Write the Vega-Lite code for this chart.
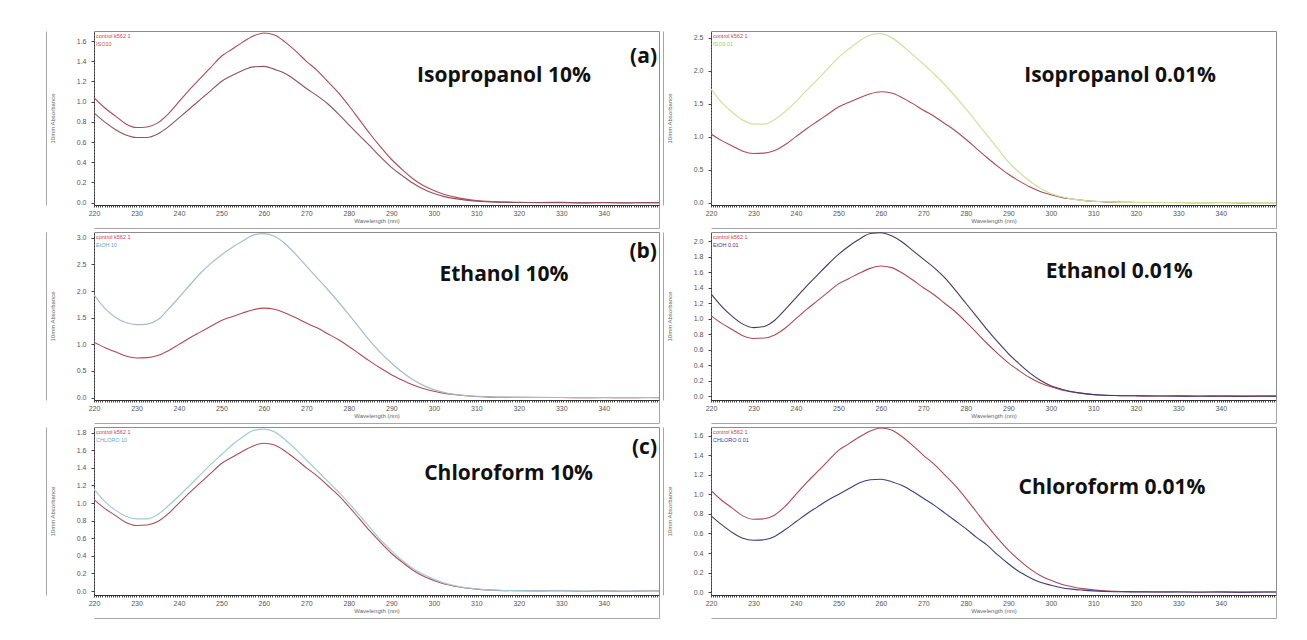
{
 "$schema": "https://vega.github.io/schema/vega-lite/v6.json",
 "background": "white",
 "padding": {"left": 45, "top": 30, "right": 5, "bottom": 5},
 "config": {
  "view": {"stroke": "#8c8c8c", "strokeWidth": 1},
  "font": "Liberation Sans",
  "axis": {"labelFont": "Liberation Sans", "labelFontSize": 7, "labelColor": "#555555", "titleFont": "Liberation Sans", "titleFontSize": 6, "titleColor": "#666666", "titleFontWeight": "normal", "grid": false, "tickSize": 3, "tickColor": "#444444", "domainColor": "#333333", "labelPadding": 2, "labelOverlap": false, "tickCount": 200},
  "axisX": {"values": [220,222,224,226,228,230,232,234,236,238,240,242,244,246,248,250,252,254,256,258,260,262,264,266,268,270,272,274,276,278,280,282,284,286,288,290,292,294,296,298,300,302,304,306,308,310,312,314,316,318,320,322,324,326,328,330,332,334,336,338,340,342,344,346,348,350,352], "labelExpr": "datum.value % 10 === 0 && datum.value <= 340 ? datum.label : ''", "labelFlush": false, "tickSize": 2, "titlePadding": 1, "format": "d"},
  "axisY": {"format": ".1f", "titlePadding": 21, "labelPadding": 5, "domainDash": [2, 1], "labelFlush": false, "labelOverlap": false}
 },
 "datasets": {
  "spectra": [
   {"wl":220,"control":1.04,"iso10":0.89,"iso001":1.72,"etoh10":1.93,"etoh001":1.32,"chl10":1.16,"chl001":0.78},
   {"wl":222.5,"control":0.94,"iso10":0.80,"iso001":1.52,"etoh10":1.68,"etoh001":1.16,"chl10":1.02,"chl001":0.69},
   {"wl":225,"control":0.86,"iso10":0.725,"iso001":1.37,"etoh10":1.51,"etoh001":1.03,"chl10":0.92,"chl001":0.61},
   {"wl":227.5,"control":0.78,"iso10":0.67,"iso001":1.25,"etoh10":1.41,"etoh001":0.93,"chl10":0.85,"chl001":0.55},
   {"wl":230,"control":0.745,"iso10":0.645,"iso001":1.19,"etoh10":1.37,"etoh001":0.885,"chl10":0.82,"chl001":0.53},
   {"wl":232.5,"control":0.75,"iso10":0.645,"iso001":1.19,"etoh10":1.38,"etoh001":0.90,"chl10":0.82,"chl001":0.535},
   {"wl":235,"control":0.79,"iso10":0.68,"iso001":1.26,"etoh10":1.46,"etoh001":0.98,"chl10":0.87,"chl001":0.57},
   {"wl":237.5,"control":0.88,"iso10":0.75,"iso001":1.38,"etoh10":1.66,"etoh001":1.12,"chl10":0.97,"chl001":0.64},
   {"wl":240,"control":1.00,"iso10":0.84,"iso001":1.53,"etoh10":1.88,"etoh001":1.27,"chl10":1.08,"chl001":0.72},
   {"wl":242.5,"control":1.12,"iso10":0.93,"iso001":1.70,"etoh10":2.11,"etoh001":1.42,"chl10":1.20,"chl001":0.80},
   {"wl":245,"control":1.23,"iso10":1.02,"iso001":1.86,"etoh10":2.33,"etoh001":1.56,"chl10":1.32,"chl001":0.87},
   {"wl":247.5,"control":1.34,"iso10":1.11,"iso001":2.03,"etoh10":2.52,"etoh001":1.70,"chl10":1.44,"chl001":0.94},
   {"wl":250,"control":1.45,"iso10":1.20,"iso001":2.20,"etoh10":2.68,"etoh001":1.83,"chl10":1.55,"chl001":1.00},
   {"wl":252.5,"control":1.52,"iso10":1.26,"iso001":2.33,"etoh10":2.82,"etoh001":1.94,"chl10":1.66,"chl001":1.06},
   {"wl":255,"control":1.59,"iso10":1.31,"iso001":2.45,"etoh10":2.94,"etoh001":2.03,"chl10":1.75,"chl001":1.12},
   {"wl":257.5,"control":1.65,"iso10":1.345,"iso001":2.54,"etoh10":3.05,"etoh001":2.10,"chl10":1.825,"chl001":1.15},
   {"wl":260,"control":1.68,"iso10":1.35,"iso001":2.56,"etoh10":3.08,"etoh001":2.11,"chl10":1.84,"chl001":1.155},
   {"wl":262.5,"control":1.66,"iso10":1.32,"iso001":2.50,"etoh10":3.03,"etoh001":2.07,"chl10":1.81,"chl001":1.13},
   {"wl":265,"control":1.59,"iso10":1.28,"iso001":2.38,"etoh10":2.89,"etoh001":1.99,"chl10":1.72,"chl001":1.09},
   {"wl":267.5,"control":1.50,"iso10":1.21,"iso001":2.24,"etoh10":2.69,"etoh001":1.88,"chl10":1.61,"chl001":1.03},
   {"wl":270,"control":1.40,"iso10":1.13,"iso001":2.10,"etoh10":2.47,"etoh001":1.77,"chl10":1.49,"chl001":0.96},
   {"wl":272.5,"control":1.31,"iso10":1.06,"iso001":1.95,"etoh10":2.25,"etoh001":1.66,"chl10":1.37,"chl001":0.89},
   {"wl":275,"control":1.20,"iso10":0.98,"iso001":1.79,"etoh10":2.03,"etoh001":1.53,"chl10":1.25,"chl001":0.81},
   {"wl":277.5,"control":1.09,"iso10":0.88,"iso001":1.61,"etoh10":1.80,"etoh001":1.37,"chl10":1.13,"chl001":0.73},
   {"wl":280,"control":0.96,"iso10":0.77,"iso001":1.42,"etoh10":1.56,"etoh001":1.20,"chl10":1.00,"chl001":0.65},
   {"wl":282.5,"control":0.82,"iso10":0.665,"iso001":1.22,"etoh10":1.31,"etoh001":1.03,"chl10":0.86,"chl001":0.56},
   {"wl":285,"control":0.68,"iso10":0.56,"iso001":1.02,"etoh10":1.06,"etoh001":0.86,"chl10":0.72,"chl001":0.48},
   {"wl":287.5,"control":0.55,"iso10":0.45,"iso001":0.82,"etoh10":0.84,"etoh001":0.70,"chl10":0.58,"chl001":0.38},
   {"wl":290,"control":0.43,"iso10":0.35,"iso001":0.62,"etoh10":0.65,"etoh001":0.55,"chl10":0.46,"chl001":0.29},
   {"wl":292.5,"control":0.33,"iso10":0.27,"iso001":0.46,"etoh10":0.48,"etoh001":0.42,"chl10":0.35,"chl001":0.21},
   {"wl":295,"control":0.24,"iso10":0.195,"iso001":0.33,"etoh10":0.34,"etoh001":0.30,"chl10":0.26,"chl001":0.15},
   {"wl":297.5,"control":0.17,"iso10":0.135,"iso001":0.22,"etoh10":0.23,"etoh001":0.205,"chl10":0.19,"chl001":0.10},
   {"wl":300,"control":0.12,"iso10":0.09,"iso001":0.14,"etoh10":0.15,"etoh001":0.135,"chl10":0.135,"chl001":0.07},
   {"wl":302.5,"control":0.08,"iso10":0.06,"iso001":0.09,"etoh10":0.095,"etoh001":0.09,"chl10":0.09,"chl001":0.045},
   {"wl":305,"control":0.055,"iso10":0.04,"iso001":0.055,"etoh10":0.06,"etoh001":0.057,"chl10":0.06,"chl001":0.03},
   {"wl":307.5,"control":0.035,"iso10":0.025,"iso001":0.035,"etoh10":0.038,"etoh001":0.035,"chl10":0.038,"chl001":0.02},
   {"wl":310,"control":0.022,"iso10":0.015,"iso001":0.022,"etoh10":0.025,"etoh001":0.02,"chl10":0.024,"chl001":0.012},
   {"wl":312.5,"control":0.013,"iso10":0.009,"iso001":0.014,"etoh10":0.016,"etoh001":0.012,"chl10":0.014,"chl001":0.007},
   {"wl":315,"control":0.008,"iso10":0.005,"iso001":0.009,"etoh10":0.01,"etoh001":0.008,"chl10":0.009,"chl001":0.004},
   {"wl":320,"control":0.004,"iso10":0.002,"iso001":0.005,"etoh10":0.005,"etoh001":0.004,"chl10":0.004,"chl001":0.002},
   {"wl":325,"control":0.002,"iso10":0.001,"iso001":0.003,"etoh10":0.003,"etoh001":0.002,"chl10":0.002,"chl001":0.001},
   {"wl":330,"control":0.003,"iso10":0.0,"iso001":0.002,"etoh10":0.002,"etoh001":0.0,"chl10":0.003,"chl001":0.0},
   {"wl":335,"control":-0.002,"iso10":0.0,"iso001":0.001,"etoh10":0.001,"etoh001":0.001,"chl10":0.0,"chl001":0.001},
   {"wl":340,"control":0.002,"iso10":-0.001,"iso001":0.0,"etoh10":0.0,"etoh001":0.0,"chl10":0.001,"chl001":0.0},
   {"wl":345,"control":-0.003,"iso10":0.0,"iso001":0.0,"etoh10":0.0,"etoh001":0.0,"chl10":0.0,"chl001":-0.001},
   {"wl":350,"control":0.001,"iso10":0.0,"iso001":0.0,"etoh10":0.0,"etoh001":0.0,"chl10":0.0,"chl001":0.0},
   {"wl":353,"control":0.0,"iso10":0.0,"iso001":0.0,"etoh10":0.0,"etoh001":0.0,"chl10":0.0,"chl001":0.0}
  ],
  "notes": [
   {"panel":"a","kind":"title","text":"Isopropanol 10%"},
   {"panel":"a","kind":"tag","text":"(a)"},
   {"panel":"a","kind":"leg1","text":"control k562 1"},
   {"panel":"a","kind":"leg2","text":"ISO10"},
   {"panel":"b","kind":"title","text":"Isopropanol 0.01%"},
   {"panel":"b","kind":"leg1","text":"control k562 1"},
   {"panel":"b","kind":"leg2","text":"ISO0.01"},
   {"panel":"c","kind":"title","text":"Ethanol 10%"},
   {"panel":"c","kind":"tag","text":"(b)"},
   {"panel":"c","kind":"leg1","text":"control k562 1"},
   {"panel":"c","kind":"leg2","text":"EtOH 10"},
   {"panel":"d","kind":"title","text":"Ethanol 0.01%"},
   {"panel":"d","kind":"leg1","text":"control k562 1"},
   {"panel":"d","kind":"leg2","text":"EtOH 0.01"},
   {"panel":"e","kind":"title","text":"Chloroform 10%"},
   {"panel":"e","kind":"tag","text":"(c)"},
   {"panel":"e","kind":"leg1","text":"control k562 1"},
   {"panel":"e","kind":"leg2","text":"CHLORO 10"},
   {"panel":"f","kind":"title","text":"Chloroform 0.01%"},
   {"panel":"f","kind":"leg1","text":"control k562 1"},
   {"panel":"f","kind":"leg2","text":"CHLORO 0.01"}
  ]
 },
 "columns": 2,
 "spacing": {"row": 27, "column": 52},
 "bounds": "flush",
 "resolve": {"scale": {"x": "independent", "y": "independent"}},
 "concat": [
  {
   "width": 565, "height": 174,
   "resolve": {"axis": {"x": "independent", "y": "independent"}},
   "layer": [
    {"data": {"name": "spectra"}, "mark": {"type": "line", "color": "#b04a55", "strokeWidth": 1.1, "interpolate": "monotone", "clip": true},
     "encoding": {"x": {"field": "wl", "type": "quantitative", "scale": {"domain": [220, 353], "nice": false, "zero": false}, "axis": {"title": "Wavelength (nm)", "tickCount": 200}},
                  "y": {"field": "control", "type": "quantitative", "scale": {"domain": [-0.023, 1.70], "nice": false, "zero": false}, "axis": {"title": "10mm Absorbance", "tickCount": 200, "values": [0,0.2,0.4,0.6,0.8,1.0,1.2,1.4,1.6]}}}},
    {"data": {"name": "spectra"}, "mark": {"type": "line", "color": "#94505e", "strokeWidth": 1.1, "interpolate": "monotone", "clip": true},
     "encoding": {"x": {"field": "wl", "type": "quantitative", "axis": {"orient": "bottom", "offset": 23, "labels": false, "values": [353], "tickSize": -23, "tickColor": "#a6a6a6", "domainColor": "#a6a6a6", "title": null}},
                  "y": {"field": "iso10", "type": "quantitative", "axis": {"orient": "left", "offset": 48, "labels": false, "ticks": false, "domainColor": "#a6a6a6", "domainDash": [], "title": null}}}},
    {"data": {"name": "notes"}, "transform": [{"filter": "datum.panel == 'a' && datum.kind == 'title'"}], "mark": {"type": "text", "font": "Open Sans", "fontWeight": "bold", "fontSize": 21, "color": "#111111", "align": "center", "baseline": "middle"},
     "encoding": {"x": {"datum": 316.5, "axis": null}, "y": {"datum": 1.256, "axis": null}, "text": {"field": "text"}}},
    {"data": {"name": "notes"}, "transform": [{"filter": "datum.panel == 'a' && datum.kind == 'tag'"}], "mark": {"type": "text", "font": "Open Sans", "fontWeight": "bold", "fontSize": 21, "color": "#111111", "align": "right", "baseline": "middle", "dx": -2},
     "encoding": {"x": {"datum": 353, "axis": null}, "y": {"datum": 1.44, "axis": null}, "text": {"field": "text"}}},
    {"data": {"name": "notes"}, "transform": [{"filter": "datum.panel == 'a' && datum.kind == 'leg1'"}], "mark": {"type": "text", "fontSize": 5.5, "color": "#d0404a", "align": "left", "baseline": "middle", "dx": 2, "dy": 5},
     "encoding": {"x": {"datum": 220, "axis": null}, "y": {"datum": 1.70, "axis": null}, "text": {"field": "text"}}},
    {"data": {"name": "notes"}, "transform": [{"filter": "datum.panel == 'a' && datum.kind == 'leg2'"}], "mark": {"type": "text", "fontSize": 5.5, "color": "#c05060", "align": "left", "baseline": "middle", "dx": 2, "dy": 12.5},
     "encoding": {"x": {"datum": 220, "axis": null}, "y": {"datum": 1.70, "axis": null}, "text": {"field": "text"}}}
   ]
  },
  {
   "width": 565, "height": 174,
   "resolve": {"axis": {"x": "independent", "y": "independent"}},
   "layer": [
    {"data": {"name": "spectra"}, "mark": {"type": "line", "color": "#b04a55", "strokeWidth": 1.1, "interpolate": "monotone", "clip": true},
     "encoding": {"x": {"field": "wl", "type": "quantitative", "scale": {"domain": [220, 353], "nice": false, "zero": false}, "axis": {"title": "Wavelength (nm)", "tickCount": 200}},
                  "y": {"field": "control", "type": "quantitative", "scale": {"domain": [-0.035, 2.60], "nice": false, "zero": false}, "axis": {"title": "10mm Absorbance", "tickCount": 200, "values": [0,0.5,1.0,1.5,2.0,2.5]}}}},
    {"data": {"name": "spectra"}, "mark": {"type": "line", "color": "#cfe29a", "strokeWidth": 1.2, "interpolate": "monotone", "clip": true},
     "encoding": {"x": {"field": "wl", "type": "quantitative", "axis": {"orient": "bottom", "offset": 23, "labels": false, "values": [353], "tickSize": -23, "tickColor": "#a6a6a6", "domainColor": "#a6a6a6", "title": null}},
                  "y": {"field": "iso001", "type": "quantitative", "axis": {"orient": "left", "offset": 48, "labels": false, "ticks": false, "domainColor": "#a6a6a6", "domainDash": [], "title": null}}}},
    {"data": {"name": "notes"}, "transform": [{"filter": "datum.panel == 'b' && datum.kind == 'title'"}], "mark": {"type": "text", "font": "Open Sans", "fontWeight": "bold", "fontSize": 21, "color": "#111111", "align": "center", "baseline": "middle"},
     "encoding": {"x": {"datum": 316.3, "axis": null}, "y": {"datum": 1.92, "axis": null}, "text": {"field": "text"}}},
    {"data": {"name": "notes"}, "transform": [{"filter": "datum.panel == 'b' && datum.kind == 'leg1'"}], "mark": {"type": "text", "fontSize": 5.5, "color": "#d0404a", "align": "left", "baseline": "middle", "dx": 2, "dy": 5},
     "encoding": {"x": {"datum": 220, "axis": null}, "y": {"datum": 2.60, "axis": null}, "text": {"field": "text"}}},
    {"data": {"name": "notes"}, "transform": [{"filter": "datum.panel == 'b' && datum.kind == 'leg2'"}], "mark": {"type": "text", "fontSize": 5.5, "color": "#9acd5a", "align": "left", "baseline": "middle", "dx": 2, "dy": 12.5},
     "encoding": {"x": {"datum": 220, "axis": null}, "y": {"datum": 2.60, "axis": null}, "text": {"field": "text"}}}
   ]
  },
  {
   "width": 565, "height": 168,
   "resolve": {"axis": {"x": "independent", "y": "independent"}},
   "layer": [
    {"data": {"name": "spectra"}, "mark": {"type": "line", "color": "#b04a55", "strokeWidth": 1.1, "interpolate": "monotone", "clip": true},
     "encoding": {"x": {"field": "wl", "type": "quantitative", "scale": {"domain": [220, 353], "nice": false, "zero": false}, "axis": {"title": "Wavelength (nm)", "tickCount": 200}},
                  "y": {"field": "control", "type": "quantitative", "scale": {"domain": [-0.045, 3.11], "nice": false, "zero": false}, "axis": {"title": "10mm Absorbance", "tickCount": 200, "values": [0,0.5,1.0,1.5,2.0,2.5,3.0]}}}},
    {"data": {"name": "spectra"}, "mark": {"type": "line", "color": "#a7bccb", "strokeWidth": 1.2, "interpolate": "monotone", "clip": true},
     "encoding": {"x": {"field": "wl", "type": "quantitative", "axis": {"orient": "bottom", "offset": 23, "labels": false, "values": [353], "tickSize": -23, "tickColor": "#a6a6a6", "domainColor": "#a6a6a6", "title": null}},
                  "y": {"field": "etoh10", "type": "quantitative", "axis": {"orient": "left", "offset": 48, "labels": false, "ticks": false, "domainColor": "#a6a6a6", "domainDash": [], "title": null}}}},
    {"data": {"name": "notes"}, "transform": [{"filter": "datum.panel == 'c' && datum.kind == 'title'"}], "mark": {"type": "text", "font": "Open Sans", "fontWeight": "bold", "fontSize": 21, "color": "#111111", "align": "center", "baseline": "middle"},
     "encoding": {"x": {"datum": 316.5, "axis": null}, "y": {"datum": 2.31, "axis": null}, "text": {"field": "text"}}},
    {"data": {"name": "notes"}, "transform": [{"filter": "datum.panel == 'c' && datum.kind == 'tag'"}], "mark": {"type": "text", "font": "Open Sans", "fontWeight": "bold", "fontSize": 21, "color": "#111111", "align": "right", "baseline": "middle", "dx": -2},
     "encoding": {"x": {"datum": 353, "axis": null}, "y": {"datum": 2.74, "axis": null}, "text": {"field": "text"}}},
    {"data": {"name": "notes"}, "transform": [{"filter": "datum.panel == 'c' && datum.kind == 'leg1'"}], "mark": {"type": "text", "fontSize": 5.5, "color": "#d0404a", "align": "left", "baseline": "middle", "dx": 2, "dy": 5},
     "encoding": {"x": {"datum": 220, "axis": null}, "y": {"datum": 3.11, "axis": null}, "text": {"field": "text"}}},
    {"data": {"name": "notes"}, "transform": [{"filter": "datum.panel == 'c' && datum.kind == 'leg2'"}], "mark": {"type": "text", "fontSize": 5.5, "color": "#5f9fc5", "align": "left", "baseline": "middle", "dx": 2, "dy": 12.5},
     "encoding": {"x": {"datum": 220, "axis": null}, "y": {"datum": 3.11, "axis": null}, "text": {"field": "text"}}}
   ]
  },
  {
   "width": 565, "height": 168,
   "resolve": {"axis": {"x": "independent", "y": "independent"}},
   "layer": [
    {"data": {"name": "spectra"}, "mark": {"type": "line", "color": "#b04a55", "strokeWidth": 1.1, "interpolate": "monotone", "clip": true},
     "encoding": {"x": {"field": "wl", "type": "quantitative", "scale": {"domain": [220, 353], "nice": false, "zero": false}, "axis": {"title": "Wavelength (nm)", "tickCount": 200}},
                  "y": {"field": "control", "type": "quantitative", "scale": {"domain": [-0.05, 2.12], "nice": false, "zero": false}, "axis": {"title": "10mm Absorbance", "tickCount": 200, "values": [0,0.2,0.4,0.6,0.8,1.0,1.2,1.4,1.6,1.8,2.0]}}}},
    {"data": {"name": "spectra"}, "mark": {"type": "line", "color": "#4a3568", "strokeWidth": 1.1, "interpolate": "monotone", "clip": true},
     "encoding": {"x": {"field": "wl", "type": "quantitative", "axis": {"orient": "bottom", "offset": 23, "labels": false, "values": [353], "tickSize": -23, "tickColor": "#a6a6a6", "domainColor": "#a6a6a6", "title": null}},
                  "y": {"field": "etoh001", "type": "quantitative", "axis": {"orient": "left", "offset": 48, "labels": false, "ticks": false, "domainColor": "#a6a6a6", "domainDash": [], "title": null}}}},
    {"data": {"name": "notes"}, "transform": [{"filter": "datum.panel == 'd' && datum.kind == 'title'"}], "mark": {"type": "text", "font": "Open Sans", "fontWeight": "bold", "fontSize": 21, "color": "#111111", "align": "center", "baseline": "middle"},
     "encoding": {"x": {"datum": 316.1, "axis": null}, "y": {"datum": 1.60, "axis": null}, "text": {"field": "text"}}},
    {"data": {"name": "notes"}, "transform": [{"filter": "datum.panel == 'd' && datum.kind == 'leg1'"}], "mark": {"type": "text", "fontSize": 5.5, "color": "#d0404a", "align": "left", "baseline": "middle", "dx": 2, "dy": 5},
     "encoding": {"x": {"datum": 220, "axis": null}, "y": {"datum": 2.12, "axis": null}, "text": {"field": "text"}}},
    {"data": {"name": "notes"}, "transform": [{"filter": "datum.panel == 'd' && datum.kind == 'leg2'"}], "mark": {"type": "text", "fontSize": 5.5, "color": "#5b2a86", "align": "left", "baseline": "middle", "dx": 2, "dy": 12.5},
     "encoding": {"x": {"datum": 220, "axis": null}, "y": {"datum": 2.12, "axis": null}, "text": {"field": "text"}}}
   ]
  },
  {
   "width": 565, "height": 168,
   "resolve": {"axis": {"x": "independent", "y": "independent"}},
   "layer": [
    {"data": {"name": "spectra"}, "mark": {"type": "line", "color": "#b04a55", "strokeWidth": 1.1, "interpolate": "monotone", "clip": true},
     "encoding": {"x": {"field": "wl", "type": "quantitative", "scale": {"domain": [220, 353], "nice": false, "zero": false}, "axis": {"title": "Wavelength (nm)", "tickCount": 200}},
                  "y": {"field": "control", "type": "quantitative", "scale": {"domain": [-0.045, 1.865], "nice": false, "zero": false}, "axis": {"title": "10mm Absorbance", "tickCount": 200, "values": [0,0.2,0.4,0.6,0.8,1.0,1.2,1.4,1.6,1.8]}}}},
    {"data": {"name": "spectra"}, "mark": {"type": "line", "color": "#9fcbd8", "strokeWidth": 1.2, "interpolate": "monotone", "clip": true},
     "encoding": {"x": {"field": "wl", "type": "quantitative", "axis": {"orient": "bottom", "offset": 23, "labels": false, "values": [353], "tickSize": -23, "tickColor": "#a6a6a6", "domainColor": "#a6a6a6", "title": null}},
                  "y": {"field": "chl10", "type": "quantitative", "axis": {"orient": "left", "offset": 48, "labels": false, "ticks": false, "domainColor": "#a6a6a6", "domainDash": [], "title": null}}}},
    {"data": {"name": "notes"}, "transform": [{"filter": "datum.panel == 'e' && datum.kind == 'title'"}], "mark": {"type": "text", "font": "Open Sans", "fontWeight": "bold", "fontSize": 21, "color": "#111111", "align": "center", "baseline": "middle"},
     "encoding": {"x": {"datum": 317.6, "axis": null}, "y": {"datum": 1.33, "axis": null}, "text": {"field": "text"}}},
    {"data": {"name": "notes"}, "transform": [{"filter": "datum.panel == 'e' && datum.kind == 'tag'"}], "mark": {"type": "text", "font": "Open Sans", "fontWeight": "bold", "fontSize": 21, "color": "#111111", "align": "right", "baseline": "middle", "dx": -2},
     "encoding": {"x": {"datum": 353, "axis": null}, "y": {"datum": 1.63, "axis": null}, "text": {"field": "text"}}},
    {"data": {"name": "notes"}, "transform": [{"filter": "datum.panel == 'e' && datum.kind == 'leg1'"}], "mark": {"type": "text", "fontSize": 5.5, "color": "#d0404a", "align": "left", "baseline": "middle", "dx": 2, "dy": 5},
     "encoding": {"x": {"datum": 220, "axis": null}, "y": {"datum": 1.865, "axis": null}, "text": {"field": "text"}}},
    {"data": {"name": "notes"}, "transform": [{"filter": "datum.panel == 'e' && datum.kind == 'leg2'"}], "mark": {"type": "text", "fontSize": 5.5, "color": "#63aec8", "align": "left", "baseline": "middle", "dx": 2, "dy": 12.5},
     "encoding": {"x": {"datum": 220, "axis": null}, "y": {"datum": 1.865, "axis": null}, "text": {"field": "text"}}}
   ]
  },
  {
   "width": 565, "height": 168,
   "resolve": {"axis": {"x": "independent", "y": "independent"}},
   "layer": [
    {"data": {"name": "spectra"}, "mark": {"type": "line", "color": "#b04a55", "strokeWidth": 1.1, "interpolate": "monotone", "clip": true},
     "encoding": {"x": {"field": "wl", "type": "quantitative", "scale": {"domain": [220, 353], "nice": false, "zero": false}, "axis": {"title": "Wavelength (nm)", "tickCount": 200}},
                  "y": {"field": "control", "type": "quantitative", "scale": {"domain": [-0.03, 1.69], "nice": false, "zero": false}, "axis": {"title": "10mm Absorbance", "tickCount": 200, "values": [0,0.2,0.4,0.6,0.8,1.0,1.2,1.4,1.6]}}}},
    {"data": {"name": "spectra"}, "mark": {"type": "line", "color": "#3d3d85", "strokeWidth": 1.1, "interpolate": "monotone", "clip": true},
     "encoding": {"x": {"field": "wl", "type": "quantitative", "axis": {"orient": "bottom", "offset": 23, "labels": false, "values": [353], "tickSize": -23, "tickColor": "#a6a6a6", "domainColor": "#a6a6a6", "title": null}},
                  "y": {"field": "chl001", "type": "quantitative", "axis": {"orient": "left", "offset": 48, "labels": false, "ticks": false, "domainColor": "#a6a6a6", "domainDash": [], "title": null}}}},
    {"data": {"name": "notes"}, "transform": [{"filter": "datum.panel == 'f' && datum.kind == 'title'"}], "mark": {"type": "text", "font": "Open Sans", "fontWeight": "bold", "fontSize": 21, "color": "#111111", "align": "center", "baseline": "middle"},
     "encoding": {"x": {"datum": 314.4, "axis": null}, "y": {"datum": 1.07, "axis": null}, "text": {"field": "text"}}},
    {"data": {"name": "notes"}, "transform": [{"filter": "datum.panel == 'f' && datum.kind == 'leg1'"}], "mark": {"type": "text", "fontSize": 5.5, "color": "#d0404a", "align": "left", "baseline": "middle", "dx": 2, "dy": 5},
     "encoding": {"x": {"datum": 220, "axis": null}, "y": {"datum": 1.69, "axis": null}, "text": {"field": "text"}}},
    {"data": {"name": "notes"}, "transform": [{"filter": "datum.panel == 'f' && datum.kind == 'leg2'"}], "mark": {"type": "text", "fontSize": 5.5, "color": "#3a3aa8", "align": "left", "baseline": "middle", "dx": 2, "dy": 12.5},
     "encoding": {"x": {"datum": 220, "axis": null}, "y": {"datum": 1.69, "axis": null}, "text": {"field": "text"}}}
   ]
  }
 ]
}
